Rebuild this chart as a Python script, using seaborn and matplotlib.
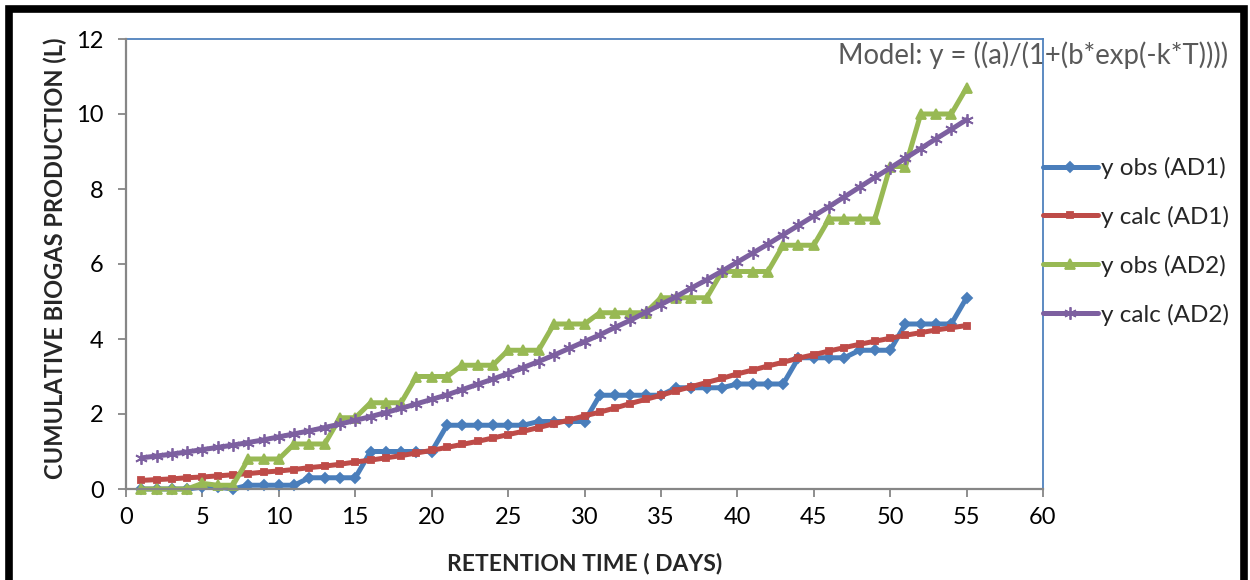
import matplotlib
matplotlib.use("Agg")
import matplotlib.pyplot as plt
import seaborn as sns
import pandas as pd
from matplotlib.patches import Rectangle

days = list(range(1, 56))

y_obs_ad1 = [0.0, 0.0, 0.0, 0.0, 0.05, 0.05, 0.0, 0.1, 0.1, 0.1,
             0.1, 0.3, 0.3, 0.3, 0.3, 1.0, 1.0, 1.0, 1.0, 1.0,
             1.7, 1.7, 1.7, 1.7, 1.7, 1.7, 1.8, 1.8, 1.8, 1.8,
             2.5, 2.5, 2.5, 2.5, 2.5, 2.7, 2.7, 2.7, 2.7, 2.8,
             2.8, 2.8, 2.8, 3.5, 3.5, 3.5, 3.5, 3.7, 3.7, 3.7,
             4.4, 4.4, 4.4, 4.4, 5.1]

y_calc_ad1 = [0.23, 0.25, 0.27, 0.30, 0.32, 0.35, 0.38, 0.41, 0.45, 0.48,
              0.52, 0.57, 0.61, 0.66, 0.72, 0.77, 0.83, 0.89, 0.96, 1.03,
              1.11, 1.19, 1.27, 1.36, 1.45, 1.54, 1.64, 1.74, 1.84, 1.95,
              2.05, 2.16, 2.28, 2.39, 2.50, 2.62, 2.73, 2.84, 2.95, 3.07,
              3.17, 3.28, 3.38, 3.49, 3.58, 3.68, 3.77, 3.86, 3.94, 4.02,
              4.10, 4.17, 4.24, 4.30, 4.36]

y_obs_ad2 = [0.0, 0.0, 0.0, 0.0, 0.15, 0.1, 0.1, 0.8, 0.8, 0.8,
             1.2, 1.2, 1.2, 1.9, 1.9, 2.3, 2.3, 2.3, 3.0, 3.0,
             3.0, 3.3, 3.3, 3.3, 3.7, 3.7, 3.7, 4.4, 4.4, 4.4,
             4.7, 4.7, 4.7, 4.7, 5.1, 5.1, 5.1, 5.1, 5.8, 5.8,
             5.8, 5.8, 6.5, 6.5, 6.5, 7.2, 7.2, 7.2, 7.2, 8.6,
             8.6, 10.0, 10.0, 10.0, 10.7]

y_calc_ad2 = [0.83, 0.88, 0.93, 0.99, 1.05, 1.11, 1.17, 1.24, 1.31, 1.39,
              1.47, 1.55, 1.64, 1.73, 1.83, 1.93, 2.04, 2.15, 2.27, 2.39,
              2.51, 2.65, 2.79, 2.93, 3.08, 3.24, 3.40, 3.57, 3.75, 3.93,
              4.11, 4.31, 4.50, 4.71, 4.92, 5.13, 5.36, 5.58, 5.81, 6.05,
              6.29, 6.53, 6.78, 7.03, 7.28, 7.53, 7.79, 8.05, 8.31, 8.56,
              8.82, 9.08, 9.34, 9.59, 9.85]

series_labels = ["y obs (AD1)", "y calc (AD1)", "y obs (AD2)", "y calc (AD2)"]
x_ticks = list(range(0, 61, 5))
y_ticks = list(range(0, 13, 2))
x_label = "RETENTION TIME ( DAYS)"
y_label = "CUMULATIVE BIOGAS PRODUCTION (L)"
model_text = "Model: y = ((a)/(1+(b*exp(-k*T))))"

sns.set_theme(style="white")
plt.rcParams["font.family"] = ["Lato", "DejaVu Sans"]

W, H = 1250, 580
fig = plt.figure(figsize=(W / 100, H / 100), dpi=100)
fig.patch.set_facecolor("white")

x0, x1, ytop, ybot = 126, 1043, 39, 489
ax = fig.add_axes([x0 / W, 1 - ybot / H, (x1 - x0) / W, (ybot - ytop) / H])

colors = ["#4A7EBB", "#BE4B48", "#98B954", "#7D60A0"]
markers = ["D", "s", "^", (6, 2, 0)]
msizes = [5, 5, 7, 9]
all_vals = [y_obs_ad1, y_calc_ad1, y_obs_ad2, y_calc_ad2]

for vals, lab, col, mk, ms in zip(all_vals, series_labels, colors, markers, msizes):
    df = pd.DataFrame({"day": days, "val": vals})
    sns.lineplot(data=df, x="day", y="val", ax=ax, color=col, label=lab,
                 linewidth=3.6, marker=mk, markersize=ms,
                 markeredgecolor=col, markeredgewidth=1.3, clip_on=False,
                 zorder=3)

ax.set_xlim(0, 60)
ax.set_ylim(0, 12)
ax.set_xticks(x_ticks)
ax.set_yticks(y_ticks)
ax.set_xlabel("")
ax.set_ylabel("")

for s in ["left", "bottom"]:
    ax.spines[s].set_color("#868686")
    ax.spines[s].set_linewidth(1.6)
    ax.spines[s].set_zorder(4)
for s in ["top", "right"]:
    ax.spines[s].set_color("#4F81BD")
    ax.spines[s].set_linewidth(1.3)

ax.tick_params(axis="both", which="major", direction="out", length=6,
               width=1.3, color="#868686", labelsize=17, labelcolor="black",
               bottom=True, left=True, top=False, right=False)
ax.tick_params(axis="x", pad=7)
ax.tick_params(axis="y", pad=10)
ax.grid(False)

fig.text(585 / W, 1 - 563 / H, x_label, ha="center", va="center",
         fontsize=16.5, fontweight="bold")
fig.text(55 / W, 1 - 258 / H, y_label, ha="center", va="center",
         rotation=90, fontsize=17, fontweight="bold")

ax.text(838 / W, 1 - 55 / H, model_text, transform=fig.transFigure,
        ha="left", va="center", fontsize=19.8, color="#595959",
        zorder=2, clip_on=False)

leg = ax.legend(loc="upper left", bbox_to_anchor=(1043 / W, 1 - 157 / H),
                bbox_transform=fig.transFigure, frameon=False, fontsize=17.5,
                handlelength=2.25, handletextpad=0.12, labelspacing=1.1,
                borderpad=0, borderaxespad=0, numpoints=1)

fig.patches.append(Rectangle((9 / W, -0.2), (1244 - 9) / W, 1.2 - 9 / H,
                             transform=fig.transFigure, fill=False,
                             edgecolor="black", linewidth=5.5, zorder=10))

fig.savefig("out.png", dpi=100)
